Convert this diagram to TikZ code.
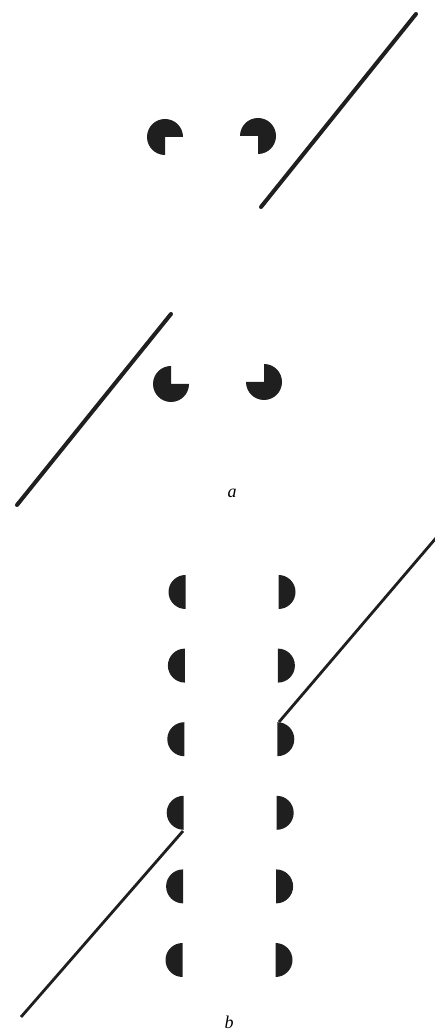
\documentclass[tikz,border=0pt]{standalone}
\usepackage{fontspec}
\setmainfont{Liberation Serif}
\begin{document}
\begin{tikzpicture}[x=1pt,y=1pt,
  bar/.style={line width=4pt,line cap=round,black!88},
  thinbar/.style={line width=2.8pt,black!88},
  blot/.style={fill=black!88},
  lbl/.style={font=\fontsize{18}{20}\selectfont\itshape,anchor=base}]
  \useasboundingbox (0,0) rectangle (434,1032);
  % a: four inducers and two bars
  \foreach \x/\y/\s in {165/895/0, 258/896/-90, 171/648/90, 264/650/180}
    \fill[blot] (\x,\y) -- ++(\s:18) arc[start angle=\s,delta angle=270,radius=18] -- cycle;
  \coordinate (a1) at (416,1018);
  \coordinate (a2) at (261,825);
  \coordinate (a3) at (171,718);
  \coordinate (a4) at (17,527);
  \draw[bar] (a1) -- (a2);
  \draw[bar] (a3) -- (a4);
  \node[lbl] (capa) at (232,534) {a};
  % b: two columns of half disks
  \foreach \k in {0,...,5} {
    \fill[blot] ({185.5-0.6*\k},{440-73.6*\k+17}) arc[start angle=90,end angle=270,radius=17] -- cycle;
    \fill[blot] ({278.5-0.6*\k},{440-73.6*\k-17}) arc[start angle=-90,end angle=90,radius=17] -- cycle;
  }
  \coordinate (b1) at (436,494);
  \coordinate (b2) at (279,310);
  \coordinate (b3) at (183,201);
  \coordinate (b4) at (21,15);
  \draw[thinbar] (b1) -- (b2);
  \draw[thinbar] (b3) -- (b4);
  \node[lbl] (capb) at (229,4) {b};
\end{tikzpicture}
\end{document}
